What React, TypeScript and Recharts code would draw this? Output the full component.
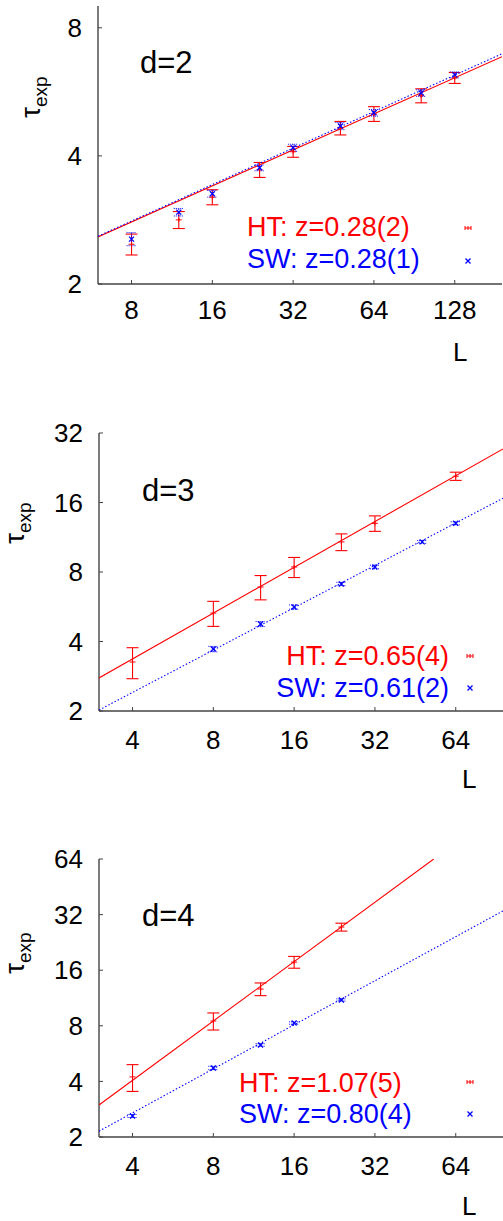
import React from 'react';
import { ScatterChart, Scatter, XAxis, YAxis, ErrorBar } from 'recharts';

// ---------- d = 2 ----------
const L2 = [8, 12, 16, 24, 32, 48, 64, 96, 128];
const HT2 = [2.48, 2.83, 3.2, 3.71, 4.09, 4.65, 5.02, 5.54, 6.1];
const HT2err = [0.14, 0.13, 0.13, 0.15, 0.12, 0.17, 0.2, 0.21, 0.18];
const SW2 = [2.55, 2.95, 3.26, 3.75, 4.18, 4.7, 5.05, 5.62, 6.2];
const SW2err = [0.09, 0.06, 0.06, 0.06, 0.08, 0.09, 0.09, 0.1, 0.1];
const FIT2_L = [6, 192];
const FIT2_HT = [2.58, 6.84];
const FIT2_SW = [2.59, 6.95];

// ---------- d = 3 ----------
const L3_HT = [4, 8, 12, 16, 24, 32, 64];
const HT3 = [3.26, 5.31, 6.89, 8.41, 10.8, 13.0, 20.8];
const HT3err = [0.5, 0.66, 0.83, 0.84, 0.9, 1.0, 0.85];
const L3_SW = [8, 12, 16, 24, 32, 48, 64];
const SW3 = [3.71, 4.76, 5.64, 7.1, 8.41, 10.8, 13.0];
const SW3err = [0.1, 0.12, 0.12, 0.12, 0.15, 0.15, 0.2];
const FIT3_L = [3, 96];
const FIT3_HT = [2.78, 27.3];
const FIT3_SW = [2.02, 16.7];

// ---------- d = 4 ----------
const L4 = [4, 8, 12, 16, 24];
const HT4 = [4.23, 8.49, 12.65, 17.7, 27.4];
const HT4err = [0.7, 0.9, 1.0, 1.3, 1.35];
const SW4 = [2.6, 4.73, 6.3, 8.28, 11.04];
const SW4err = [0.05, 0.1, 0.1, 0.12, 0.15];
const FIT4_HT_L = [3, 53];
const FIT4_HT = [2.98, 64];
const FIT4_SW_L = [3, 96];
const FIT4_SW = [2.15, 33.5];

// ---------- axes ----------
const X_TICKS_2 = [8, 16, 32, 64, 128];
const X_TICKS_34 = [4, 8, 16, 32, 64];
const Y_TICKS_2 = [2, 4, 8];
const Y_TICKS_3 = [2, 4, 8, 16, 32];
const Y_TICKS_4 = [2, 4, 8, 16, 32, 64];

const RED = '#ff0000';
const BLUE = '#0000ff';
const FONT = '"Liberation Sans", Arial, Helvetica, sans-serif';

type Pt = { x: number; y: number; err?: number };
const zip = (xs: number[], ys: number[], es?: number[]): Pt[] =>
  xs.map((x, i) => ({ x, y: ys[i], err: es ? es[i] : 0 }));

const Empty = () => <g />;
const PlusShape = (p: any) => {
  const { cx, cy } = p;
  return (
    <path
      d={`M${cx - 3},${cy}H${cx + 3}M${cx},${cy - 2}V${cy + 2}`}
      stroke={RED}
      strokeWidth={1}
      fill="none"
    />
  );
};
const CrossShape = (p: any) => {
  const { cx, cy } = p;
  const s = 2.5;
  return (
    <path
      d={`M${cx - s},${cy - s}L${cx + s},${cy + s}M${cx - s},${cy + s}L${cx + s},${cy - s}`}
      stroke={BLUE}
      strokeWidth={1.3}
      fill="none"
    />
  );
};

const axisLine = { stroke: '#444', strokeWidth: 1.4 };
const tickLine = { stroke: '#444', strokeWidth: 1 };
const tickFont = { fontSize: 26, fill: '#000', fontFamily: FONT };

type PanelProps = {
  top: number;
  height: number;
  mt: number;
  mb: number;
  mr: number;
  yw: number;
  xDomain: [number, number];
  xTicks: number[];
  yDomain: [number, number];
  yTicks: number[];
  xTickMargin: number;
  ht: Pt[];
  sw: Pt[];
  fitHT: Pt[];
  fitSW: Pt[];
};

function Panel(props: PanelProps) {
  const { top, height, mt, mb, mr, yw, xDomain, xTicks, yDomain, yTicks, xTickMargin, ht, sw, fitHT, fitSW } = props;
  return (
    <div style={{ position: 'absolute', left: 0, top, width: 503, height }}>
      <ScatterChart width={503} height={height} margin={{ top: mt, right: mr, bottom: mb, left: 0 }}>
        <XAxis
          dataKey="x"
          type="number"
          scale="log"
          domain={xDomain}
          ticks={xTicks}
          allowDataOverflow
          interval={0}
          height={40}
          tickSize={-4}
          tickMargin={xTickMargin}
          axisLine={axisLine}
          tickLine={tickLine}
          tick={tickFont}
        />
        <XAxis
          xAxisId="top"
          orientation="top"
          dataKey="x"
          type="number"
          scale="log"
          domain={xDomain}
          ticks={xTicks}
          allowDataOverflow
          interval={0}
          height={0}
          tickSize={-4}
          axisLine={axisLine}
          tickLine={tickLine}
          tick={false}
        />
        <YAxis
          dataKey="y"
          type="number"
          scale="log"
          domain={yDomain}
          ticks={yTicks}
          allowDataOverflow
          interval={0}
          width={yw}
          tickSize={-4}
          tickMargin={20}
          axisLine={axisLine}
          tickLine={tickLine}
          tick={tickFont}
        />
        <YAxis
          yAxisId="right"
          orientation="right"
          dataKey="y"
          type="number"
          scale="log"
          domain={yDomain}
          ticks={yTicks}
          allowDataOverflow
          interval={0}
          width={0}
          tickSize={-4}
          axisLine={axisLine}
          tickLine={tickLine}
          tick={false}
        />
        <Scatter
          data={fitHT}
          line={{ stroke: RED, strokeWidth: 1.1 }}
          shape={Empty}
          isAnimationActive={false}
        />
        <Scatter
          data={fitSW}
          line={{ stroke: BLUE, strokeWidth: 1.1, strokeDasharray: '1.5 2' }}
          shape={Empty}
          isAnimationActive={false}
        />
        <Scatter data={ht} shape={PlusShape} isAnimationActive={false}>
          <ErrorBar dataKey="err" direction="y" width={6} stroke={RED} strokeWidth={1.1} />
        </Scatter>
        <Scatter data={sw} shape={CrossShape} isAnimationActive={false}>
          <ErrorBar dataKey="err" direction="y" width={5} stroke={BLUE} strokeWidth={1} strokeDasharray="1 1" />
        </Scatter>
      </ScatterChart>
    </div>
  );
}

const HTSym = ({ x, y }: { x: number; y: number }) => (
  <path
    d={`M${x - 3},${y}H${x + 3}M${x - 3},${y - 2}V${y + 2}M${x + 3},${y - 2}V${y + 2}M${x},${y - 2}V${y + 2}`}
    stroke={RED}
    strokeWidth={1}
    fill="none"
  />
);
const SWSym = ({ x, y }: { x: number; y: number }) => (
  <path
    d={`M${x - 2.5},${y - 2.5}L${x + 2.5},${y + 2.5}M${x - 2.5},${y + 2.5}L${x + 2.5},${y - 2.5}`}
    stroke={BLUE}
    strokeWidth={1.3}
    fill="none"
  />
);

const TauLabel = ({ x, y }: { x: number; y: number }) => (
  <text
    transform={`translate(${x},${y}) rotate(-90)`}
    textAnchor="middle"
    fontSize={27}
    fontFamily={FONT}
    fill="#000"
  >
    τ<tspan fontSize={19} dy={7}>exp</tspan>
  </text>
);

export default function App() {
  return (
    <div style={{ position: 'absolute', left: 0, top: 0, width: 503, height: 1221, background: '#fff', overflow: 'hidden' }}>
      <Panel
        top={0}
        height={400}
        mt={6}
        mb={76}
        mr={1}
        yw={98}
        xDomain={[6, 192]}
        xTicks={X_TICKS_2}
        yDomain={[2, 9]}
        yTicks={Y_TICKS_2}
        xTickMargin={21}
        ht={zip(L2, HT2, HT2err)}
        sw={zip(L2, SW2, SW2err)}
        fitHT={zip(FIT2_L, FIT2_HT)}
        fitSW={zip(FIT2_L, FIT2_SW)}
      />
      <Panel
        top={410}
        height={400}
        mt={23}
        mb={59}
        mr={0}
        yw={99}
        xDomain={[3, 96]}
        xTicks={X_TICKS_34}
        yDomain={[2, 32]}
        yTicks={Y_TICKS_3}
        xTickMargin={24}
        ht={zip(L3_HT, HT3, HT3err)}
        sw={zip(L3_SW, SW3, SW3err)}
        fitHT={zip(FIT3_L, FIT3_HT)}
        fitSW={zip(FIT3_L, FIT3_SW)}
      />
      <Panel
        top={840}
        height={381}
        mt={19}
        mb={44}
        mr={0}
        yw={99}
        xDomain={[3, 96]}
        xTicks={X_TICKS_34}
        yDomain={[2, 64]}
        yTicks={Y_TICKS_4}
        xTickMargin={24}
        ht={zip(L4, HT4, HT4err)}
        sw={zip(L4, SW4, SW4err)}
        fitHT={zip(FIT4_HT_L, FIT4_HT)}
        fitSW={zip(FIT4_SW_L, FIT4_SW)}
      />
      <svg
        width={503}
        height={1221}
        style={{ position: 'absolute', left: 0, top: 0, pointerEvents: 'none' }}
      >
        {/* panel 1 */}
        <TauLabel x={40} y={97} />
        <text x={140} y={73} fontSize={31} fontFamily={FONT} fill="#000">d=2</text>
        <text x={247} y={236} fontSize={27} fontFamily={FONT} fill={RED}>HT: z=0.28(2)</text>
        <text x={247} y={268} fontSize={27} fontFamily={FONT} fill={BLUE}>SW: z=0.28(1)</text>
        <HTSym x={468} y={228} />
        <SWSym x={468} y={261} />
        <text x={453} y={361} fontSize={26} fontFamily={FONT} fill="#000">L</text>

        {/* panel 2 */}
        <TauLabel x={24} y={523} />
        <text x={142} y={501} fontSize={31} fontFamily={FONT} fill="#000">d=3</text>
        <text x={449} y={665} fontSize={27} fontFamily={FONT} fill={RED} textAnchor="end">HT: z=0.65(4)</text>
        <text x={449} y={697} fontSize={27} fontFamily={FONT} fill={BLUE} textAnchor="end">SW: z=0.61(2)</text>
        <HTSym x={470} y={656} />
        <SWSym x={470} y={688} />
        <text x={462} y={788} fontSize={26} fontFamily={FONT} fill="#000">L</text>

        {/* panel 3 */}
        <TauLabel x={24} y={953} />
        <text x={142} y={926} fontSize={31} fontFamily={FONT} fill="#000">d=4</text>
        <text x={239} y={1092} fontSize={27} fontFamily={FONT} fill={RED}>HT: z=1.07(5)</text>
        <text x={239} y={1123} fontSize={27} fontFamily={FONT} fill={BLUE}>SW: z=0.80(4)</text>
        <HTSym x={470} y={1082} />
        <SWSym x={470} y={1114} />
        <text x={462} y={1215} fontSize={26} fontFamily={FONT} fill="#000">L</text>
      </svg>
    </div>
  );
}
